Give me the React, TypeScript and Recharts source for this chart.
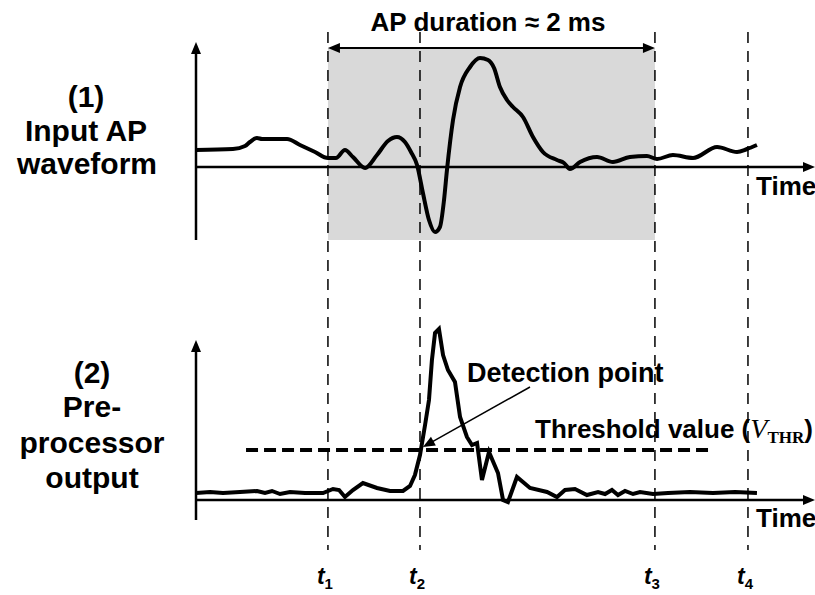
import React from 'react';
import { ComposedChart, Line, XAxis, YAxis, ReferenceLine, ReferenceArea } from 'recharts';

// input AP waveform (time in ms, amplitude in arbitrary units)
const inputTime = [
  0, 0.226, 0.3, 0.33, 0.373, 0.404, 0.465, 0.557, 0.636, 0.728, 0.807, 0.856, 0.911, 0.96, 1.034, 1.107,
  1.174, 1.229, 1.278, 1.315, 1.352, 1.388, 1.425, 1.462, 1.492, 1.517, 1.535, 1.572, 1.615,
  1.676, 1.737, 1.786, 1.823, 1.859, 1.902, 1.939, 2.0, 2.061, 2.122, 2.208, 2.251, 2.287,
  2.349, 2.453, 2.55, 2.654, 2.758, 2.82, 2.917, 3.04, 3.187, 3.309, 3.37, 3.431,
];
const inputValue = [
  0.17, 0.18, 0.21, 0.25, 0.29, 0.28, 0.28, 0.28, 0.22, 0.15, 0.09, 0.09, 0.17, 0.1, -0.01, 0.12,
  0.26, 0.3, 0.25, 0.15, 0.02, -0.26, -0.53, -0.65, -0.6, -0.33, -0.03, 0.47, 0.8,
  1.0, 1.09, 1.07, 0.99, 0.8, 0.67, 0.6, 0.5, 0.3, 0.15, 0.07, 0.04, -0.02,
  0.05, 0.1, 0.05, 0.1, 0.11, 0.08, 0.12, 0.09, 0.2, 0.15, 0.18, 0.22,
];

// pre-processor output
const outputTime = [
  0, 0.086, 0.165, 0.269, 0.373, 0.422, 0.465, 0.514, 0.575, 0.667, 0.777, 0.838, 0.875, 0.911,
  0.96, 1.021, 1.107, 1.187, 1.266, 1.309, 1.339, 1.37, 1.401, 1.425, 1.443, 1.462, 1.486,
  1.511, 1.541, 1.584, 1.615, 1.657, 1.688, 1.719, 1.749, 1.792, 1.847, 1.878, 1.908, 1.963,
  2.043, 2.147, 2.208, 2.257, 2.318, 2.391, 2.459, 2.502, 2.544, 2.581, 2.624, 2.673, 2.716,
  2.795, 2.887, 3.021, 3.162, 3.297, 3.431,
];
const outputValue = [
  0.07, 0.08, 0.07, 0.08, 0.09, 0.07, 0.09, 0.06, 0.08, 0.07, 0.07, 0.11, 0.1, 0.03,
  0.1, 0.17, 0.12, 0.09, 0.09, 0.14, 0.25, 0.45, 0.75, 1.0, 1.4, 1.67, 1.71,
  1.45, 1.3, 1.18, 0.83, 0.63, 0.55, 0.57, 0.2, 0.48, 0.27, 0.0, -0.02, 0.23,
  0.12, 0.08, 0.03, 0.1, 0.11, 0.05, 0.08, 0.06, 0.1, 0.05, 0.09, 0.06, 0.08,
  0.06, 0.07, 0.08, 0.07, 0.08, 0.07,
];

const markerTimes = [0.807, 1.37, 2.807, 3.376];
const markerLabels = ['1', '2', '3', '4'];
const thresholdValue = 0.5;
const thresholdFrom = 0.306;
const thresholdTo = 3.156;
const detectionTime = 1.388;

const inputData = inputTime.map((t, i) => ({ t, v: inputValue[i] }));
const outputData = outputTime.map((t, i) => ({ t, v: outputValue[i] }));

const W = 815;
const H = 595;
const LEFT = 196;
const TIME_MAX = 3.786;
const toX = (t: number) => LEFT + (t / TIME_MAX) * (W - LEFT);

const FONT = '"Liberation Sans", Arial, sans-serif';
const SERIF = '"Liberation Serif", "Times New Roman", serif';

function arrowShape(start: boolean, end: boolean, width: number) {
  return (p: any) => {
    const { x1, y1, x2, y2 } = p;
    const dx = x2 - x1;
    const dy = y2 - y1;
    const len = Math.sqrt(dx * dx + dy * dy) || 1;
    const ux = dx / len;
    const uy = dy / len;
    const L = 12;
    const hw = 5;
    const head = (x: number, y: number, sx: number, sy: number) => {
      const bx = x - sx * L;
      const by = y - sy * L;
      return `${x},${y} ${bx - sy * hw},${by + sx * hw} ${bx + sy * hw},${by - sx * hw}`;
    };
    return (
      <g>
        <line
          x1={start ? x1 + ux * (L - 2) : x1}
          y1={start ? y1 + uy * (L - 2) : y1}
          x2={end ? x2 - ux * (L - 2) : x2}
          y2={end ? y2 - uy * (L - 2) : y2}
          stroke="#000"
          strokeWidth={width}
        />
        {end && <polygon points={head(x2, y2, ux, uy)} fill="#000" />}
        {start && <polygon points={head(x1, y1, -ux, -uy)} fill="#000" />}
      </g>
    );
  };
}

export default function App() {
  return (
    <div style={{ position: 'absolute', left: 0, top: 0, width: W, height: H, background: '#fff' }}>
      <ComposedChart width={W} height={H} margin={{ top: 0, right: 0, bottom: 0, left: LEFT }}>
        <XAxis dataKey="t" type="number" domain={[0, TIME_MAX]} hide allowDataOverflow />
        <YAxis yAxisId="top" type="number" domain={[-4.28, 1.67]} hide allowDataOverflow />
        <YAxis yAxisId="bot" type="number" domain={[-0.95, 5.0]} hide allowDataOverflow />

        <ReferenceArea
          yAxisId="top"
          x1={markerTimes[0]}
          x2={markerTimes[2]}
          y1={-0.73}
          y2={1.19}
          fill="#d9d9d9"
          fillOpacity={1}
          stroke="none"
        />

        {markerTimes.map((t) => (
          <ReferenceLine
            key={`m-${t}`}
            yAxisId="top"
            segment={[{ x: t, y: 1.35 }, { x: t, y: -3.83 }]}
            stroke="#000"
            strokeWidth={1.5}
            strokeDasharray="11 8"
          />
        ))}

        {/* axes of the two panels */}
        <ReferenceLine yAxisId="top" segment={[{ x: 0, y: -0.73 }, { x: 0, y: 1.25 }]} shape={arrowShape(false, true, 2.5)} />
        <ReferenceLine yAxisId="top" segment={[{ x: 0, y: 0 }, { x: TIME_MAX, y: 0 }]} shape={arrowShape(false, true, 2.5)} />
        <ReferenceLine yAxisId="bot" segment={[{ x: 0, y: -0.2 }, { x: 0, y: 1.6 }]} shape={arrowShape(false, true, 2.5)} />
        <ReferenceLine yAxisId="bot" segment={[{ x: 0, y: 0 }, { x: TIME_MAX, y: 0 }]} shape={arrowShape(false, true, 2.5)} />

        {/* AP duration arrow */}
        <ReferenceLine
          yAxisId="top"
          segment={[{ x: markerTimes[0], y: 1.19 }, { x: markerTimes[2], y: 1.19 }]}
          shape={arrowShape(true, true, 2)}
        />

        <ReferenceLine
          yAxisId="bot"
          segment={[{ x: thresholdFrom, y: thresholdValue }, { x: thresholdTo, y: thresholdValue }]}
          stroke="#000"
          strokeWidth={4}
          strokeDasharray="12 6"
        />

        <ReferenceLine
          yAxisId="bot"
          segment={[{ x: 2.043, y: 1.13 }, { x: detectionTime, y: thresholdValue + 0.03 }]}
          shape={arrowShape(false, true, 1.5)}
        />

        <Line
          yAxisId="top"
          data={inputData}
          dataKey="v"
          type="monotone"
          stroke="#000"
          strokeWidth={4}
          dot={false}
          isAnimationActive={false}
        />
        <Line
          yAxisId="bot"
          data={outputData}
          dataKey="v"
          type="linear"
          stroke="#000"
          strokeWidth={4}
          dot={false}
          isAnimationActive={false}
        />
      </ComposedChart>

      <svg
        width={W}
        height={H}
        style={{ position: 'absolute', left: 0, top: 0, pointerEvents: 'none' }}
        fontFamily={FONT}
        fontWeight="bold"
      >
        <text x={488} y={31} fontSize={26} textAnchor="middle">AP duration ≈ 2 ms</text>

        <g fontSize={30} textAnchor="middle">
          <text x={86} y={107}>(1)</text>
          <text x={86} y={141}>Input AP</text>
          <text x={87} y={174}>waveform</text>
          <text x={92} y={383}>(2)</text>
          <text x={92} y={417}>Pre-</text>
          <text x={92} y={453}>processor</text>
          <text x={92} y={488}>output</text>
        </g>

        <text x={756} y={195} fontSize={26}>Time</text>
        <text x={756} y={527} fontSize={26}>Time</text>

        <text x={467} y={382} fontSize={27}>Detection point</text>
        <text x={535} y={438} fontSize={26}>
          Threshold value (
          <tspan fontFamily={SERIF} fontStyle="italic" fontWeight="normal" fontSize={28}>V</tspan>
          <tspan fontFamily={SERIF} fontSize={17} dy={5}>THR</tspan>
          <tspan dy={-5}>)</tspan>
        </text>

        {markerTimes.map((t, i) => (
          <text key={`l-${i}`} x={toX(t) - 3} y={584} fontSize={23} fontStyle="italic" textAnchor="middle">
            t<tspan fontSize={15} fontStyle="normal" dy={5}>{markerLabels[i]}</tspan>
          </text>
        ))}
      </svg>
    </div>
  );
}
